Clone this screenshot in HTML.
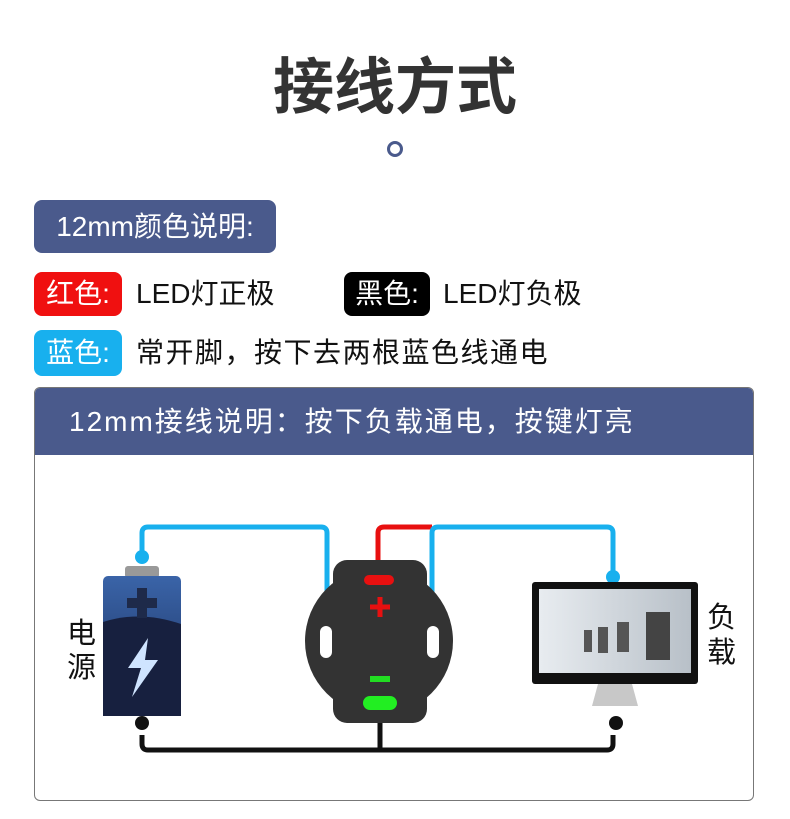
<!DOCTYPE html>
<html><head><meta charset="utf-8"><style>
body{margin:0;width:790px;height:819px;background:#fff;position:relative;font-family:"Liberation Sans","Noto Sans CJK SC",sans-serif;overflow:hidden}
.a{position:absolute}
.t{font-size:28px;color:#111;line-height:44px;white-space:nowrap}
.b{border-radius:8px;color:#fff;font-size:28px;text-align:center;line-height:44px}
</style></head><body>
<div class="a" style="left:0;width:790px;top:50px;text-align:center;font-size:61px;font-weight:bold;color:#333;line-height:74px">接线方式</div>
<div class="a" style="left:387px;top:141px;width:10px;height:10px;border:3px solid #4a5a8c;border-radius:50%"></div>
<div class="a b" style="left:34px;top:200px;width:242px;height:53px;line-height:53px;background:#4a5a8c">12mm颜色说明:</div>
<div class="a b" style="left:34px;top:272px;width:88px;height:44px;background:#f01010">红色:</div>
<div class="a t" style="left:136px;top:272px">LED灯正极</div>
<div class="a b" style="left:344px;top:272px;width:86px;height:44px;background:#000">黑色:</div>
<div class="a t" style="left:443px;top:272px">LED灯负极</div>
<div class="a b" style="left:34px;top:330px;width:88px;height:46px;line-height:46px;background:#18b0ee">蓝色:</div>
<div class="a t" style="left:136px;top:331px;letter-spacing:1.5px">常开脚，按下去两根蓝色线通电</div>
<div class="a" style="left:34px;top:387px;width:718px;height:412px;border:1px solid #777;border-radius:6px;overflow:hidden">
<div style="height:67px;background:#4a5a8c;color:#fff;font-size:28px;line-height:67px;padding-left:34px;letter-spacing:2px;white-space:nowrap">12mm接线说明：按下负载通电，按键灯亮</div>
</div>
<svg class="a" style="left:0;top:0" width="790" height="819">
<defs><linearGradient id="bt" x1="0" y1="0" x2="0" y2="1"><stop offset="0" stop-color="#3a64a8"/><stop offset="1" stop-color="#1a2d5a"/></linearGradient>
<linearGradient id="sc" x1="0" y1="0" x2="1" y2="0"><stop offset="0" stop-color="#e8ecf0"/><stop offset="1" stop-color="#b8c0c8"/></linearGradient></defs>
<path d="M142 555 V533 Q142 527 148 527 H321 Q327 527 327 533 V600" fill="none" stroke="#18b0ee" stroke-width="5"/>
<path d="M378 572 V533 Q378 527 384 527 H432" fill="none" stroke="#e81010" stroke-width="5"/>
<path d="M432 600 V533 Q432 527 438 527 H607 Q613 527 613 533 V576" fill="none" stroke="#18b0ee" stroke-width="5"/>
<path d="M142 735 V744 Q142 750 148 750 H607 Q613 750 613 744 V735 M380 712 V750" fill="none" stroke="#111" stroke-width="5"/>
<circle cx="379" cy="641" r="74" fill="#333"/>
<rect x="333" y="560" width="94" height="163" rx="14" fill="#333"/>
<rect x="364" y="575" width="30" height="10" rx="5" fill="#e81010"/>
<path d="M380 597 V617 M370 607 H390" stroke="#e81010" stroke-width="5"/>
<rect x="370" y="676" width="20" height="6" fill="#22dd22"/>
<rect x="363" y="696" width="34" height="14" rx="7" fill="#22ee22"/>
<rect x="320" y="626" width="12" height="32" rx="6" fill="#fff"/>
<rect x="427" y="626" width="12" height="32" rx="6" fill="#fff"/>
<circle cx="142" cy="557" r="7" fill="#18b0ee"/>
<rect x="125" y="566" width="34" height="12" rx="3" fill="#999"/>
<rect x="103" y="576" width="78" height="140" rx="5" fill="url(#bt)"/>
<path d="M103 622 Q140 610 181 624 V716 H103Z" fill="#17203f"/>
<path d="M137 588 h10 v10 h10 v10 h-10 v10 h-10 v-10 h-10 v-10 h10z" fill="#1e2a4a"/>
<path d="M148 638 L128 668 H141 L132 697 L158 660 H145 Z" fill="#cfe4ff"/>
<circle cx="142" cy="723" r="7" fill="#111"/>
<circle cx="613" cy="577" r="7" fill="#18b0ee"/>
<rect x="532" y="582" width="166" height="102" rx="3" fill="#111"/>
<rect x="539" y="589" width="152" height="84" fill="url(#sc)"/>
<rect x="646" y="612" width="24" height="48" fill="#444"/><rect x="617" y="622" width="12" height="30" fill="#555"/><rect x="598" y="627" width="10" height="26" fill="#555"/><rect x="584" y="630" width="8" height="22" fill="#555"/>
<path d="M598 684 H632 L638 706 H592Z" fill="#c8c8c8"/>
<circle cx="616" cy="723" r="7" fill="#111"/>
<text x="67" y="643" font-size="29" fill="#111" font-family="Liberation Sans,Noto Sans CJK SC,sans-serif">电</text>
<text x="67" y="677" font-size="29" fill="#111" font-family="Liberation Sans,Noto Sans CJK SC,sans-serif">源</text>
<text x="707" y="627" font-size="29" fill="#111" font-family="Liberation Sans,Noto Sans CJK SC,sans-serif">负</text>
<text x="707" y="662" font-size="29" fill="#111" font-family="Liberation Sans,Noto Sans CJK SC,sans-serif">载</text>
</svg>
</body></html>
